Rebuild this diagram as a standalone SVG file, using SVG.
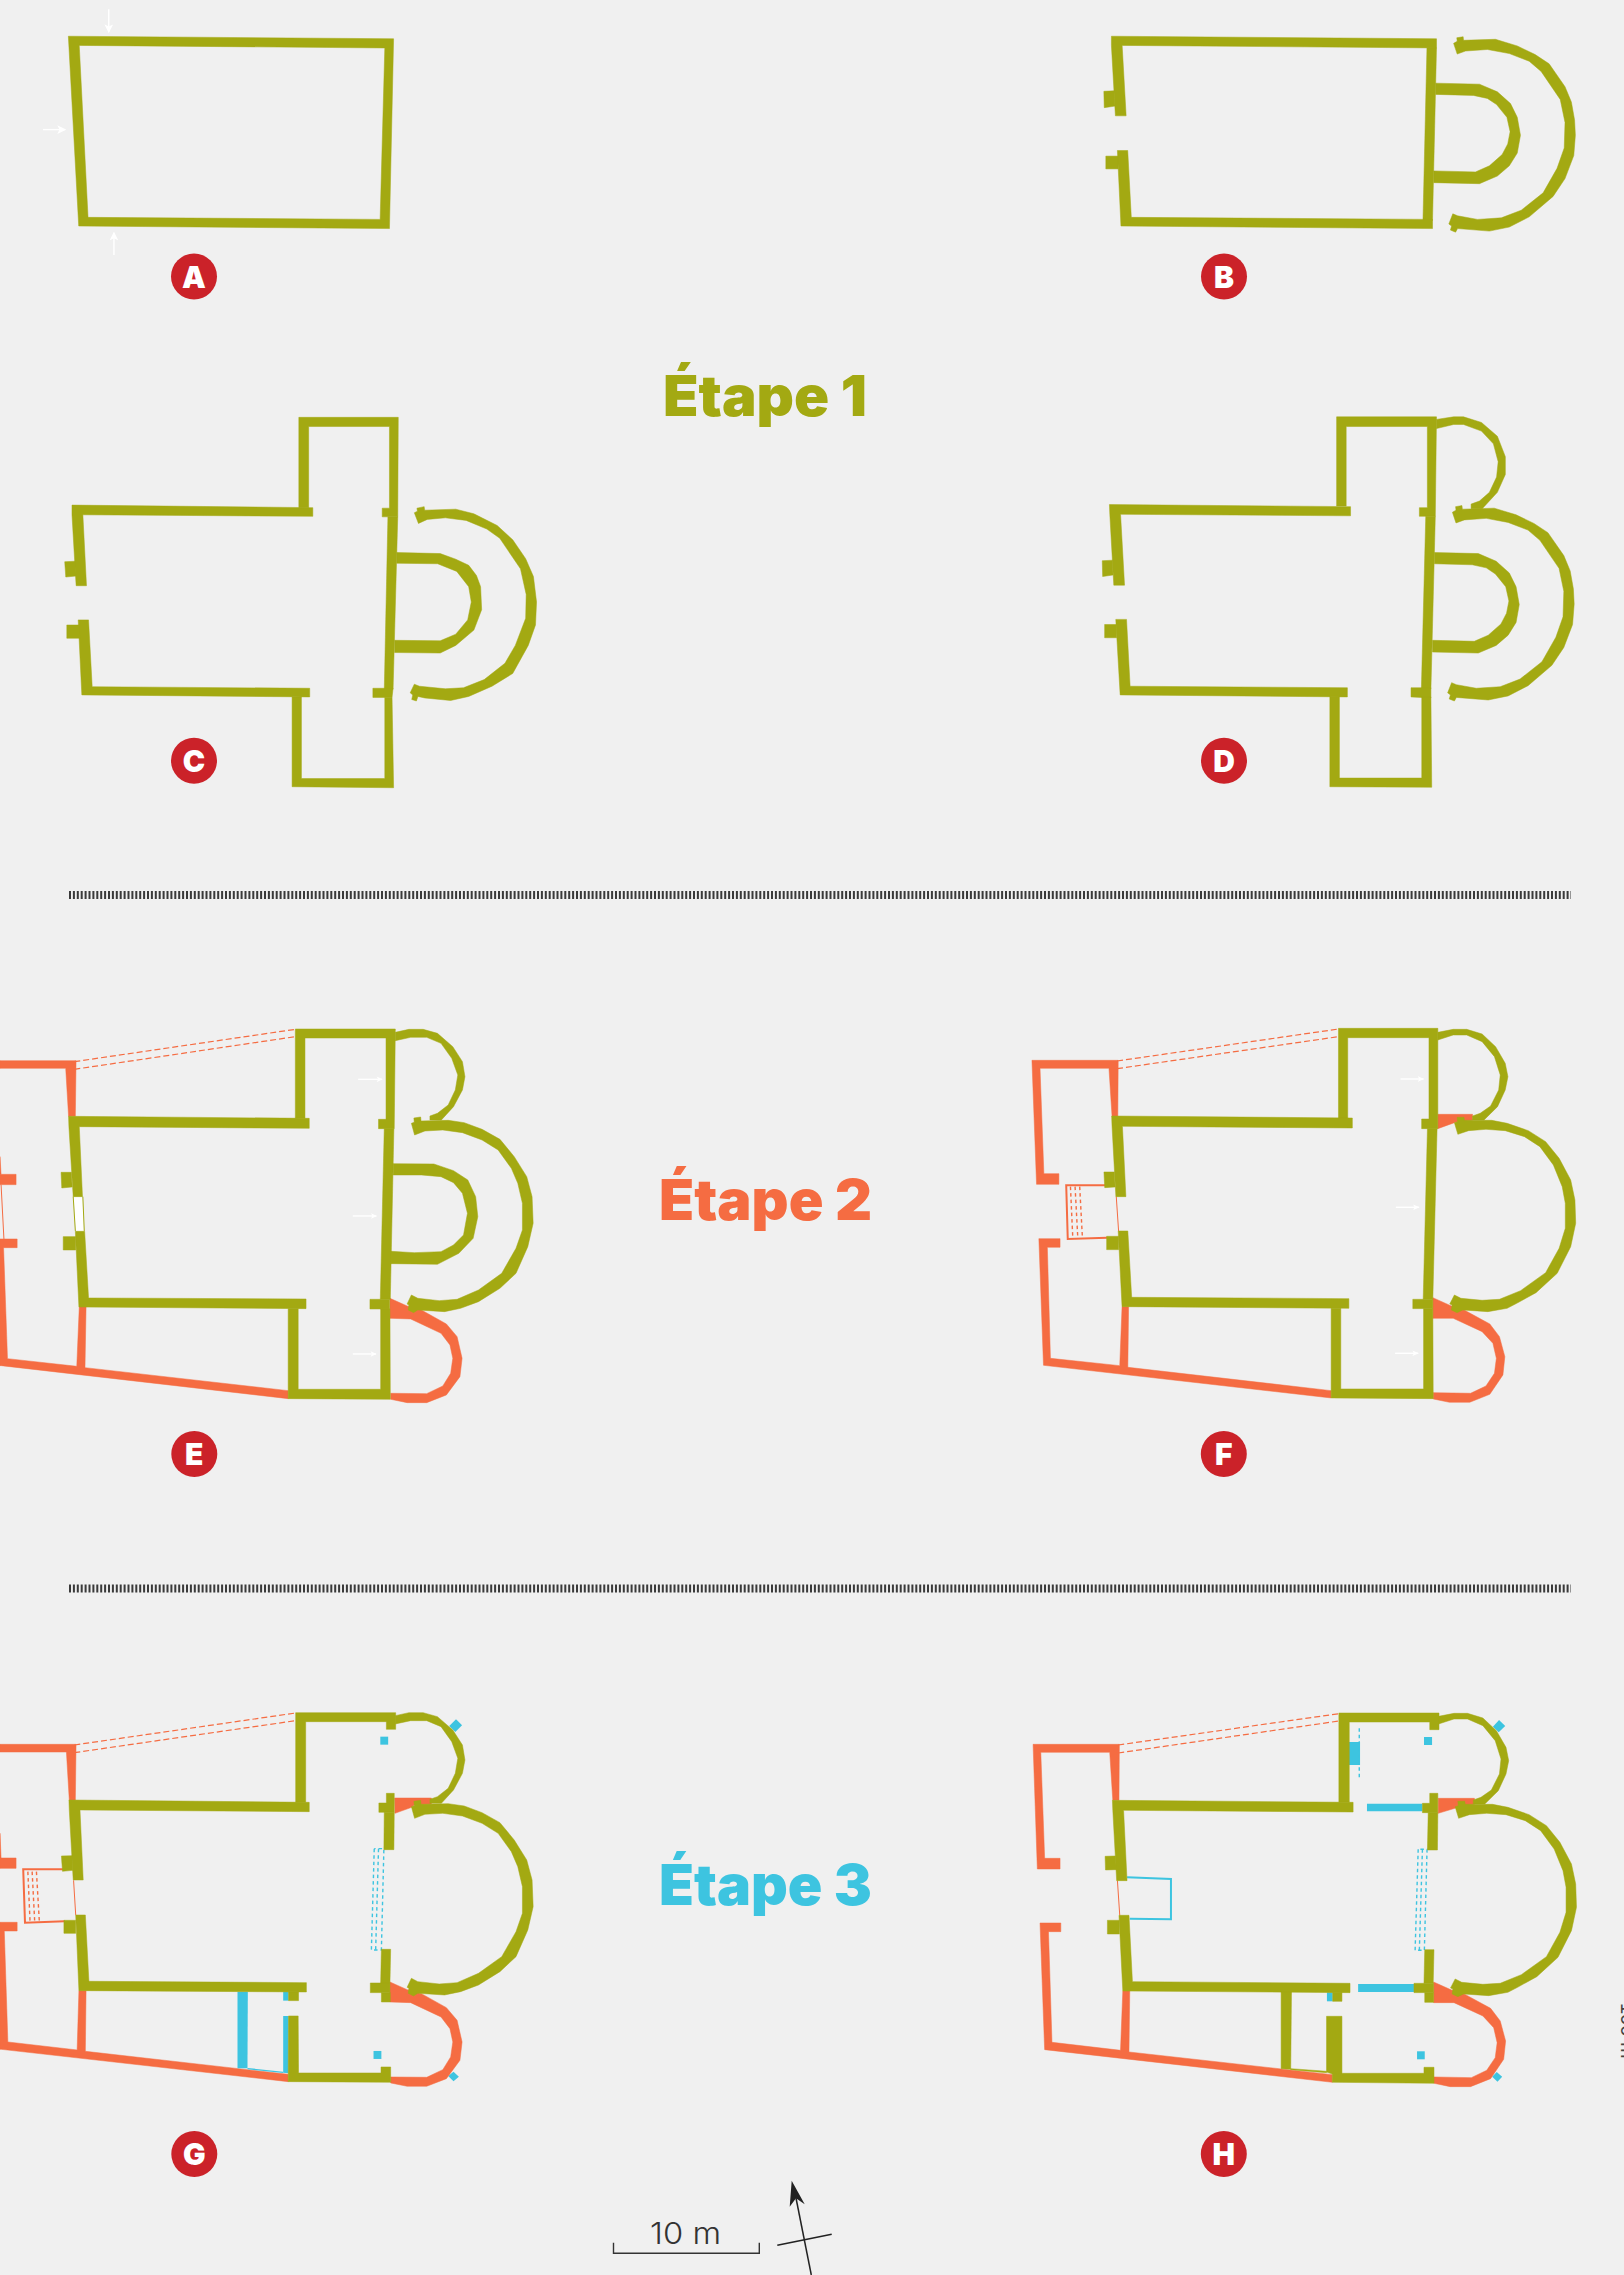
<svg xmlns="http://www.w3.org/2000/svg" width="1624" height="2275" viewBox="0 0 1624 2275">
<style>
.o{fill:#a3a912;stroke:#a3a912;stroke-width:.5;vector-effect:non-scaling-stroke}
.r{fill:#f56c42;stroke:#f56c42;stroke-width:.5;vector-effect:non-scaling-stroke}
.b{fill:#3dc4e0}
.thin{fill:none;vector-effect:non-scaling-stroke}
.arrow{stroke:#fff;stroke-width:1.4;fill:none;vector-effect:non-scaling-stroke;marker-end:url(#wh)}
.dr{stroke:#f56c42;stroke-width:1.2;stroke-dasharray:6 3;fill:none;vector-effect:non-scaling-stroke}
.dot-r{stroke:#f56c42;stroke-width:1.4;stroke-dasharray:3.5 3;fill:none;vector-effect:non-scaling-stroke}
.dot-b{stroke:#3dc4e0;stroke-width:1.4;stroke-dasharray:3.5 3;fill:none;vector-effect:non-scaling-stroke}
.fr{stroke:#f56c42;stroke-width:2;fill:none;vector-effect:non-scaling-stroke}
.fb{stroke:#3dc4e0;stroke-width:2;fill:none;vector-effect:non-scaling-stroke}
.hair{stroke:#f56c42;stroke-width:1;fill:none;vector-effect:non-scaling-stroke}
.badge{fill:#cb2229}
.bt{font-family:Inter,"Liberation Sans",sans-serif;font-weight:900;font-size:30px;fill:#fff;text-anchor:middle}
.title{font-family:Inter,"Liberation Sans",sans-serif;font-weight:900;font-size:56px}
.rule{stroke:#3a3a3a;stroke-width:8;stroke-dasharray:2 1.9;fill:none}
</style>
<defs>
<marker id="wh" viewBox="0 0 10 10" refX="9" refY="5" markerWidth="18" markerHeight="17" orient="auto" markerUnits="userSpaceOnUse"><path d="M0 0L10 5L0 10L2.5 5Z" fill="#fff"/></marker>
<!-- zoom-2 coordinates -->
<polygon id="outer2" class="o" points="1149,106 1140,85 1149,81 1148,74 1164,72 1165,79 1245,77 1300,90 1345,107 1380,125 1420,170 1436,200 1444,235 1446,265 1442,305 1420,350 1390,385 1330,425 1280,445 1230,453 1150,448 1145,455 1132,451 1135,443 1128,439 1138,419 1150,423 1200,430 1260,427 1310,412 1365,378 1400,330 1418,290 1420,240 1408,195 1360,140 1330,120 1280,105 1225,97 1170,100"/>
<polygon id="inner2" class="o" points="1095,163 1205,165 1250,180 1283,203 1300,230 1308,265 1300,300 1280,325 1250,345 1205,360 1090,358 1090,335 1195,337 1230,325 1262,303 1276,282 1282,258 1274,230 1248,205 1225,193 1190,187 1095,185"/>
<!-- zoom-3 coordinates -->
<polygon id="small3" class="o" points="1107,97 1145,88 1185,88 1225,100 1268,140 1295,185 1302,230 1295,270 1270,320 1236,360 1204,360 1204,348 1225,340 1255,315 1275,270 1282,225 1265,175 1235,130 1195,112 1150,112 1107,122"/>
<polygon id="outer3" class="o" points="1161,405 1152,370 1160,367 1159,354 1178,351 1179,363 1255,361 1300,368 1350,388 1400,418 1440,470 1475,530 1490,590 1493,670 1478,740 1445,820 1400,865 1340,905 1290,925 1245,935 1170,930 1158,938 1143,930 1145,915 1140,912 1152,885 1170,895 1230,902 1280,898 1340,870 1405,820 1445,745 1463,690 1463,610 1450,550 1432,505 1395,450 1350,420 1295,398 1240,390 1190,393"/>
<polygon id="sapse3" class="r" points="1092,895 1140,918 1180,930 1250,972 1280,1010 1294,1075 1288,1130 1250,1185 1195,1208 1140,1208 1094,1198 1094,1180 1195,1181 1240,1158 1262,1120 1268,1075 1260,1035 1235,1000 1150,957 1092,955"/>
<!-- zoom-4 coordinates -->
<polygon id="small4" class="o" points="1085,97 1125,88 1160,88 1200,102 1235,140 1260,190 1267,230 1260,270 1240,320 1205,360 1175,360 1175,348 1195,340 1222,318 1243,270 1247,225 1232,170 1200,125 1160,105 1125,105 1085,120"/>
<polygon id="outer4" class="o" points="1137,403 1128,368 1136,365 1135,352 1153,352 1154,361 1225,361 1265,370 1320,392 1365,425 1400,475 1430,540 1441,600 1443,670 1430,740 1395,820 1340,878 1290,910 1265,925 1215,935 1150,930 1135,938 1120,930 1122,915 1116,912 1128,885 1145,895 1200,901 1245,898 1300,872 1365,818 1400,745 1416,685 1416,610 1408,560 1385,495 1350,440 1310,410 1260,392 1210,388 1165,392"/>
<polygon id="sapse4" class="r" points="1072,893 1120,918 1150,928 1220,972 1245,1010 1259,1070 1254,1125 1220,1183 1168,1207 1115,1207 1073,1197 1073,1178 1170,1180 1210,1158 1232,1120 1237,1075 1228,1030 1200,995 1125,955 1072,955"/>
</defs>
<rect width="1624" height="2275" fill="#f0f0f0"/>

<g id="plan-a" transform="scale(.5179 .5102)">
<path class="o" fill-rule="evenodd" d="M132,71L760,76L752,448L152,443ZM153,89L170,426L734,430L743,94Z"/>
<line class="arrow" x1="210" y1="18" x2="210" y2="63"/>
<line class="arrow" x1="83" y1="254" x2="126" y2="254"/>
<line class="arrow" x1="220" y1="500" x2="220" y2="456"/>
</g>
<g id="badge-a"><circle class="badge" cx="194" cy="276.5" r="23"/><text class="bt" x="194" y="287.5">A</text></g>

<g id="plan-b" transform="translate(1000 0) scale(.3979 .5102)">
<polygon class="o" points="280,71 1097,76 1097,94 307,89 317,227 290,227 280,89"/>
<polygon class="o" points="1073,94 1097,94 1087,432 1063,432"/>
<polygon class="o" points="295,295 321,295 330,426 1087,430 1087,448 304,443"/>
<polygon class="o" points="261,179 287,178 289,208 262,211"/>
<polygon class="o" points="266,306 297,306 297,331 266,331"/>
<use href="#inner2"/><use href="#outer2"/>
</g>
<g id="badge-b"><circle class="badge" cx="1224" cy="276.5" r="23"/><text class="bt" x="1224" y="287.5">B</text></g>

<g id="plan-c" transform="scale(.5179 .5102)">
<polygon class="o" points="577,995 577,818 769,818 768,1013 738,1013 738,996 752,996 752,836 596,836 596,995"/>
<polygon class="o" points="139,990 604,995 604,1012 160,1009 167,1148 147,1148 139,1009"/>
<polygon class="o" points="125,1101 145,1100 147,1129 127,1131"/>
<polygon class="o" points="151,1215 171,1215 178,1346 598,1349 598,1366 158,1362"/>
<polygon class="o" points="129,1225 153,1225 155,1251 129,1251"/>
<polygon class="o" points="749,1013 768,1013 759,1351 742,1351"/>
<polygon class="o" points="720,1349 759,1349 757,1367 720,1367"/>
<polygon class="o" points="564,1366 582,1366 582,1526 743,1526 743,1367 757,1367 760,1544 564,1542"/>
<polygon class="o" points="766,1083 850,1085 880,1096 905,1108 920,1128 928,1150 930,1195 915,1235 880,1265 850,1280 762,1279 762,1255 850,1256 880,1243 903,1215 910,1180 905,1150 882,1120 845,1105 766,1104"/>
<polygon class="o" points="808,1026 800,1005 806,1002 805,996 819,993 820,1000 880,998 915,1007 960,1030 990,1058 1015,1095 1030,1130 1036,1180 1034,1225 1020,1265 990,1320 950,1345 905,1365 870,1373 820,1368 807,1365 804,1374 795,1371 797,1362 792,1358 800,1341 810,1345 860,1350 895,1348 935,1332 975,1300 995,1265 1015,1212 1016,1165 1005,1115 965,1055 940,1037 900,1020 860,1015 825,1018"/>
</g>
<g id="badge-c"><circle class="badge" cx="194" cy="760.7" r="23"/><text class="bt" x="194" y="771.7">C</text></g>

<g id="plan-d" transform="translate(1000 0) scale(.3979 .5102)">
<polygon class="o" points="1097,822 1140,817 1165,817 1210,828 1250,855 1270,895 1270,930 1250,965 1212,997 1184,997 1184,988 1205,982 1230,965 1248,935 1252,905 1240,870 1210,845 1165,832 1140,832 1097,840"/>
<polygon class="o" points="846,992 846,817 1097,817 1094,1012 1054,1012 1054,995 1074,995 1074,836 870,836 870,992"/>
<polygon class="o" points="275,989 881,993 881,1011 303,1008 313,1147 286,1147 276,1008"/>
<polygon class="o" points="257,1099 283,1098 284,1127 258,1130"/>
<polygon class="o" points="263,1224 293,1224 293,1250 263,1250"/>
<polygon class="o" points="291,1214 318,1214 327,1345 873,1348 873,1366 302,1362"/>
<polygon class="o" points="1070,1012 1094,1012 1083,1350 1059,1350"/>
<polygon class="o" points="1033,1348 1083,1348 1083,1368 1033,1366"/>
<polygon class="o" points="829,1365 853,1365 853,1525 1060,1525 1060,1366 1083,1366 1085,1543 829,1542"/>
<use href="#inner2" transform="translate(-3 920)"/><use href="#outer2" transform="translate(-3 919)"/>
</g>
<g id="badge-d"><circle class="badge" cx="1224" cy="760.7" r="23"/><text class="bt" x="1224" y="771.7">D</text></g>

<text id="title-1" class="title" x="663" y="416" fill="#a3a912" textLength="204" lengthAdjust="spacingAndGlyphs">Étape 1</text>

<line id="rule-1" class="rule" x1="69" y1="895" x2="1571" y2="895"/>

<g id="plan-e" transform="translate(0 1000) scale(.3571 .3333)">
<line class="dr" x1="208" y1="185" x2="827" y2="88"/>
<line class="dr" x1="208" y1="208" x2="827" y2="110"/>
<polygon class="r" points="0,182 213,182 211,349 192,349 184,205 0,205"/>
<polygon class="r" points="0,470 3,523 0,523"/>
<polygon class="r" points="0,523 45,523 45,554 0,554"/>
<polygon class="r" points="0,717 48,717 48,743 10,743 21,1076 215,1099 222,921 241,921 238,1103 807,1172 807,1196 3,1097 0,1097"/>
<line class="hair" x1="3" y1="554" x2="11" y2="717"/>
<use href="#sapse3"/>
<polygon points="206,590 231,590 235,693 212,693" fill="#fff"/>
<line x1="205" y1="590" x2="211" y2="693" class="thin" stroke="#a3a912" stroke-width="1"/>
<line x1="232" y1="590" x2="236" y2="693" class="thin" stroke="#a3a912" stroke-width="1"/>
<polygon class="o" points="827,355 827,87 1107,87 1104,386 1060,386 1060,358 1081,358 1081,114 854,114 854,355"/>
<polygon class="o" points="1076,386 1103,386 1093,898 1065,898"/>
<polygon class="o" points="192,349 866,355 866,385 222,380 231,590 205,590 193,380"/>
<polygon class="o" points="171,517 200,517 202,561 173,564"/>
<polygon class="o" points="177,710 212,710 212,750 177,750"/>
<polygon class="o" points="211,694 237,694 248,894 857,897 857,926 221,921"/>
<polygon class="o" points="1036,898 1091,898 1091,927 1036,927"/>
<polygon class="o" points="807,926 835,926 835,1168 1066,1168 1066,927 1092,927 1093,1198 807,1196"/>
<use href="#small3"/>
<polygon class="o" points="1101,491 1215,492 1270,512 1310,540 1332,590 1338,650 1325,715 1285,760 1225,793 1095,791 1095,754 1160,758 1235,755 1270,735 1298,705 1309,640 1295,580 1270,548 1235,530 1180,525 1101,525"/>
<use href="#outer3"/>
<line class="arrow" x1="1003" y1="238" x2="1070" y2="238"/>
<line class="arrow" x1="988" y1="648" x2="1054" y2="648"/>
<line class="arrow" x1="988" y1="1062" x2="1053" y2="1062"/>
</g>
<g id="badge-e"><circle class="badge" cx="194.300" cy="1454" r="23"/><text class="bt" x="194.300" y="1465">E</text></g>

<g id="plan-f" transform="translate(1020 1000) scale(.3851 .3333)">
<line class="dr" x1="252" y1="183" x2="827" y2="87"/>
<line class="dr" x1="252" y1="206" x2="827" y2="110"/>
<polygon class="r" points="31,181 255,181 254,349 239,349 231,205 52,205 62,521 101,521 101,553 43,553"/>
<polygon class="r" points="49,716 104,716 104,742 71,742 79,1075 259,1097 265,920 282,920 280,1102 808,1172 808,1194 61,1096"/>
<polyline class="fr" points="222,556 120,556 124,717 226,713"/>
<line class="hair" x1="250" y1="590" x2="256" y2="693"/>
<line class="dot-r" x1="131" y1="560" x2="137" y2="712"/>
<line class="dot-r" x1="143" y1="560" x2="150" y2="712"/>
<line class="dot-r" x1="155" y1="560" x2="162" y2="712"/>
<polygon class="r" points="1085,343 1175,343 1175,361 1136,365 1128,368 1085,386"/>
<use href="#sapse4"/>
<polygon class="o" points="827,355 827,85 1085,85 1085,386 1043,386 1043,357 1062,357 1062,113 851,113 851,355"/>
<polygon class="o" points="1058,386 1083,386 1072,898 1047,898"/>
<polygon class="o" points="238,348 863,354 863,384 266,379 275,590 249,590 239,379"/>
<polygon class="o" points="218,516 245,516 247,561 220,563"/>
<polygon class="o" points="225,709 256,709 256,749 225,749"/>
<polygon class="o" points="255,693 280,693 290,892 854,896 854,925 265,920"/>
<polygon class="o" points="1020,898 1072,898 1072,926 1020,926"/>
<polygon class="o" points="808,925 833,925 833,1167 1048,1167 1048,926 1072,926 1073,1196 808,1194"/>
<use href="#small4"/><use href="#outer4"/>
<line class="arrow" x1="988" y1="237" x2="1048" y2="237"/>
<line class="arrow" x1="976" y1="622" x2="1036" y2="622"/>
<line class="arrow" x1="974" y1="1060" x2="1034" y2="1060"/>
</g>
<g id="badge-f"><circle class="badge" cx="1223.800" cy="1454" r="23"/><text class="bt" x="1223.800" y="1465">F</text></g>

<text id="title-2" class="title" x="659" y="1220" fill="#f56c42" textLength="213" lengthAdjust="spacingAndGlyphs">Étape 2</text>

<line id="rule-2" class="rule" x1="69" y1="1588.500" x2="1571" y2="1588.500"/>

<g id="plan-g" transform="translate(0 1690) scale(.3571 .3333)">
<line class="dr" x1="208" y1="165" x2="828" y2="69"/>
<line class="dr" x1="208" y1="188" x2="828" y2="92"/>
<polygon class="b" points="1277,88 1294,106 1275,126 1258,108"/>
<polygon class="b" points="1270,1145 1285,1160 1270,1174 1255,1158"/>
<polygon class="r" points="0,163 213,163 211,330 194,330 186,186 0,186"/>
<polygon class="r" points="0,430 3,504 0,504"/>
<polygon class="r" points="0,504 45,504 45,535 0,535"/>
<polygon class="r" points="0,697 48,697 48,723 12,723 22,1056 216,1080 221,902 241,902 239,1084 807,1153 807,1175 3,1078 0,1078"/>
<polyline class="fr" points="177,538 65,538 70,698 181,694"/>
<line class="hair" x1="206" y1="571" x2="212" y2="675"/>
<line class="dot-r" x1="78" y1="545" x2="84" y2="692"/>
<line class="dot-r" x1="90" y1="545" x2="97" y2="692"/>
<line class="dot-r" x1="102" y1="545" x2="110" y2="692"/>
<polygon class="r" points="1105,324 1208,324 1208,342 1180,344 1160,345 1153,352 1106,370"/>
<use href="#sapse3" transform="translate(0 -19)"/>
<polygon class="b" points="665,905 694,905 693,1135 665,1135"/>
<polygon class="b" points="793,905 808,905 808,932 793,932"/>
<polygon class="b" points="793,978 808,978 808,1150 793,1148"/>
<polygon class="b" points="693,1134 793,1145 793,1149 693,1138"/>
<polygon class="b" points="1065,140 1087,140 1087,164 1065,164"/>
<polygon class="b" points="1046,1083 1068,1083 1068,1107 1046,1107"/>
<polyline class="dot-b" points="1048,476 1040,780 1068,780 1075,476 1048,476"/>
<line class="dot-b" x1="1060" y1="476" x2="1052" y2="780"/>
<polygon class="o" points="828,337 828,68 1108,68 1108,118 1082,118 1082,95 856,95 856,337"/>
<polygon class="o" points="193,330 866,337 866,365 224,360 233,570 205,570 194,360"/>
<polygon class="o" points="172,498 202,497 204,541 175,544"/>
<polygon class="o" points="179,691 212,691 212,730 179,730"/>
<polygon class="o" points="212,675 239,675 249,874 858,878 858,906 221,902"/>
<polygon class="o" points="1082,310 1104,310 1104,367 1061,367 1061,339 1082,339"/>
<polygon class="o" points="1076,367 1104,367 1103,479 1075,479"/>
<polygon class="o" points="1068,778 1094,778 1092,879 1066,879"/>
<polygon class="o" points="1037,879 1092,879 1092,908 1037,908"/>
<polygon class="o" points="1068,908 1093,908 1093,936 1068,936"/>
<polygon class="o" points="808,906 836,906 836,932 808,932"/>
<polygon class="o" points="808,978 835,978 836,1149 1067,1149 1067,1131 1094,1131 1094,1177 807,1175"/>
<use href="#small3" transform="translate(0 -20)"/><use href="#outer3" transform="translate(0 -20)"/>
</g>
<g id="badge-g"><circle class="badge" cx="194.300" cy="2154" r="23"/><text class="bt" x="194.300" y="2165">G</text></g>

<g id="plan-h" transform="translate(1020 1690) scale(.3851 .3333)">
<line class="dr" x1="255" y1="165" x2="828" y2="71"/>
<line class="dr" x1="255" y1="189" x2="828" y2="93"/>
<polygon class="b" points="1244,90 1260,108 1243,127 1228,110"/>
<polygon class="b" points="1238,1146 1252,1160 1240,1175 1226,1160"/>
<polygon class="r" points="34,163 258,163 257,331 241,331 233,187 54,187 64,505 104,505 104,537 45,537"/>
<polygon class="r" points="52,699 106,699 106,725 74,725 83,1057 261,1081 267,903 285,903 283,1086 811,1154 811,1177 64,1079"/>
<line class="hair" x1="253" y1="572" x2="259" y2="676"/>
<polygon class="r" points="1086,325 1180,325 1180,343 1147,347 1138,352 1086,370"/>
<use href="#sapse4" transform="translate(2 -17)"/>
<polyline class="fb" points="278,562 392,567 392,688 285,686"/>
<polygon class="b" points="854,156 883,156 883,225 854,225"/>
<line class="dot-b" x1="881" y1="115" x2="881" y2="265"/>
<polygon class="b" points="901,341 1045,341 1045,364 901,364"/>
<polygon class="b" points="878,882 1023,882 1023,906 878,906"/>
<polygon class="b" points="797,907 812,907 812,934 797,934"/>
<polygon class="b" points="1049,141 1070,141 1070,165 1049,165"/>
<polygon class="b" points="1031,1084 1051,1084 1051,1108 1031,1108"/>
<polyline class="dot-b" points="1034,478 1026,781 1050,781 1057,478 1034,478"/>
<line class="dot-b" x1="1045" y1="478" x2="1037" y2="781"/>
<polygon class="o" points="828,337 828,69 1088,69 1088,119 1064,119 1064,96 855,96 855,337"/>
<polygon class="o" points="240,331 865,337 865,366 269,361 278,572 251,572 241,361"/>
<polygon class="o" points="221,499 248,498 250,539 222,540"/>
<polygon class="o" points="227,691 258,691 258,732 227,732"/>
<polygon class="o" points="257,676 283,676 292,875 857,880 857,908 267,903"/>
<polygon class="o" points="1064,310 1085,310 1085,368 1045,368 1045,340 1064,340"/>
<polygon class="o" points="1060,368 1085,368 1084,480 1058,480"/>
<polygon class="o" points="1051,779 1075,779 1073,880 1049,880"/>
<polygon class="o" points="1023,880 1074,880 1074,908 1023,908"/>
<polygon class="o" points="1051,908 1074,908 1074,937 1051,937"/>
<polygon class="o" points="812,907 836,907 836,934 812,934"/>
<polygon class="o" points="796,979 836,979 836,1150 1049,1150 1049,1132 1075,1132 1075,1180 811,1177 811,1152 796,1146"/>
<polygon class="o" points="678,906 705,906 703,1138 678,1136"/>
<polygon class="o" points="703,1136 796,1144 796,1148 703,1139"/>
<use href="#small4" transform="translate(2 -18)"/><use href="#outer4" transform="translate(2 -18)"/>
</g>
<g id="badge-h"><circle class="badge" cx="1223.800" cy="2154" r="23"/><text class="bt" x="1223.800" y="2165">H</text></g>

<text id="title-3" class="title" x="659" y="1905" fill="#3dc4e0" textLength="213" lengthAdjust="spacingAndGlyphs">Étape 3</text>

<g id="scale">
<polyline points="613.500,2242.700 613.500,2253.300 759.300,2253.300 759.300,2242.700" fill="none" stroke="#333" stroke-width="1.4"/>
<text x="650" y="2244" font-family="Inter,'Liberation Sans',sans-serif" font-weight="300" font-size="30" fill="#333" textLength="71" lengthAdjust="spacingAndGlyphs">10 m</text>
</g>
<g id="north">
<line x1="811.300" y1="2275" x2="796" y2="2198" stroke="#222" stroke-width="1.500"/>
<line x1="777.300" y1="2245.300" x2="831.700" y2="2234.300" stroke="#222" stroke-width="1.500"/>
<polygon points="791.700,2180.700 789.700,2206.700 796,2198.300 804.700,2204.300" fill="#222"/>
</g>
<text id="credit" transform="translate(1621 2003) rotate(90)" font-family="'Liberation Sans',sans-serif" font-size="20" fill="#444">100 m</text>
</svg>
